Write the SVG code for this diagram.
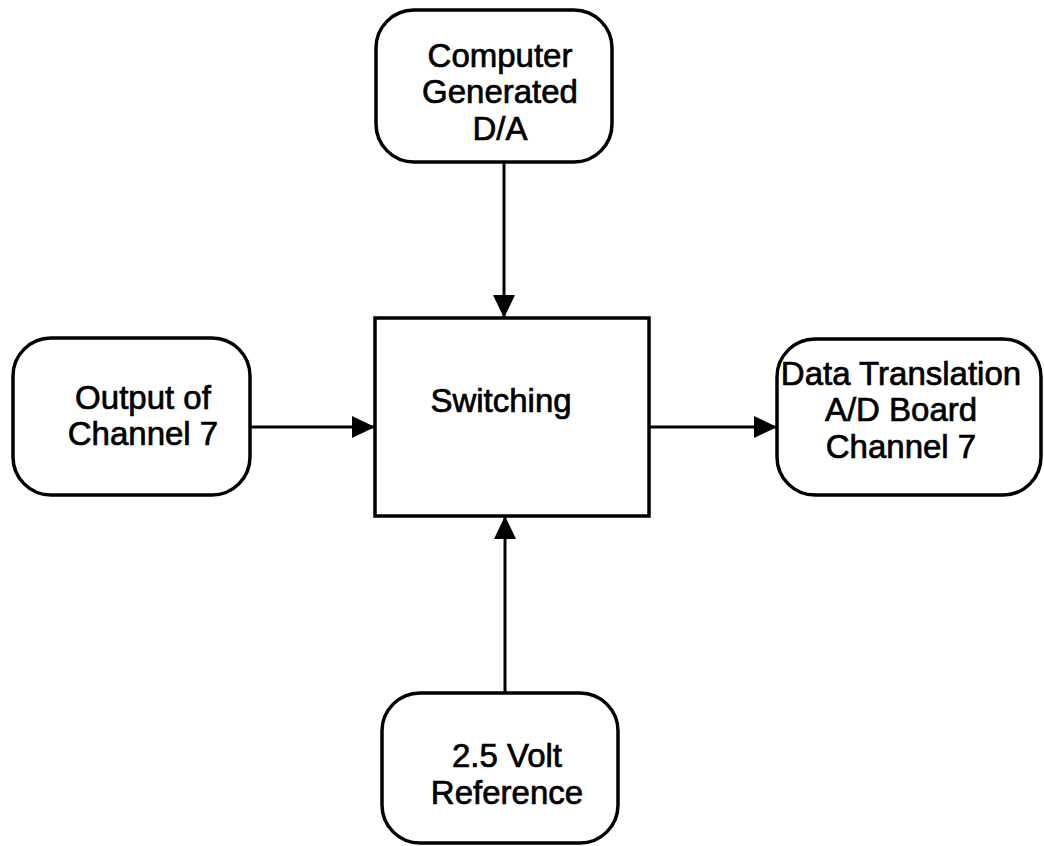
<svg xmlns="http://www.w3.org/2000/svg" width="1044" height="846" viewBox="0 0 1044 846">
  <style>
    .box { fill: #ffffff; stroke: #000000; stroke-width: 3.5; }
    .wire { fill: none; stroke: #000000; stroke-width: 3; }
    .label { font-family: "Liberation Sans", Arial, Helvetica, sans-serif; font-size: 33px; fill: #000000; stroke: #000000; stroke-width: 0.7; text-anchor: middle; }
  </style>
  <defs>
    <marker id="arrowhead" markerUnits="userSpaceOnUse" markerWidth="24" markerHeight="22" refX="23" refY="11" orient="auto">
      <path d="M0,0 L23,11 L0,22 Z" fill="#000000"/>
    </marker>
  </defs>
  <rect width="1044" height="846" fill="#ffffff"/>

  <!-- connectors -->
  <g id="connectors">
    <line class="wire" x1="504" y1="162" x2="504" y2="318" marker-end="url(#arrowhead)"/>
    <line class="wire" x1="250" y1="427" x2="375" y2="427" marker-end="url(#arrowhead)"/>
    <line class="wire" x1="649" y1="427" x2="777" y2="427" marker-end="url(#arrowhead)"/>
    <line class="wire" x1="505" y1="693" x2="505" y2="516" marker-end="url(#arrowhead)"/>
  </g>

  <!-- D/A source -->
  <g id="node-computer-da">
    <rect class="box" x="376" y="10" width="236" height="152" rx="38" ry="38"/>
    <text class="label" x="500" y="67">Computer</text>
    <text class="label" x="500" y="103">Generated</text>
    <text class="label" x="500" y="140">D/A</text>
  </g>

  <!-- switching block -->
  <g id="node-switching">
    <rect class="box" x="375" y="318" width="274" height="198" stroke-width="4"/>
    <text class="label" x="501" y="412">Switching</text>
  </g>

  <!-- channel 7 input -->
  <g id="node-output-ch7">
    <rect class="box" x="13" y="338" width="237" height="157" rx="38" ry="38"/>
    <text class="label" x="143" y="409">Output of</text>
    <text class="label" x="143" y="445">Channel 7</text>
  </g>

  <!-- A/D board -->
  <g id="node-ad-board">
    <rect class="box" x="777" y="339" width="264" height="156" rx="38" ry="38"/>
    <text class="label" x="901" y="385">Data Translation</text>
    <text class="label" x="901" y="421">A/D Board</text>
    <text class="label" x="901" y="458">Channel 7</text>
  </g>

  <!-- voltage reference -->
  <g id="node-reference">
    <rect class="box" x="382" y="693" width="236" height="150" rx="38" ry="38"/>
    <text class="label" x="507" y="767">2.5 Volt</text>
    <text class="label" x="507" y="804">Reference</text>
  </g>
</svg>
